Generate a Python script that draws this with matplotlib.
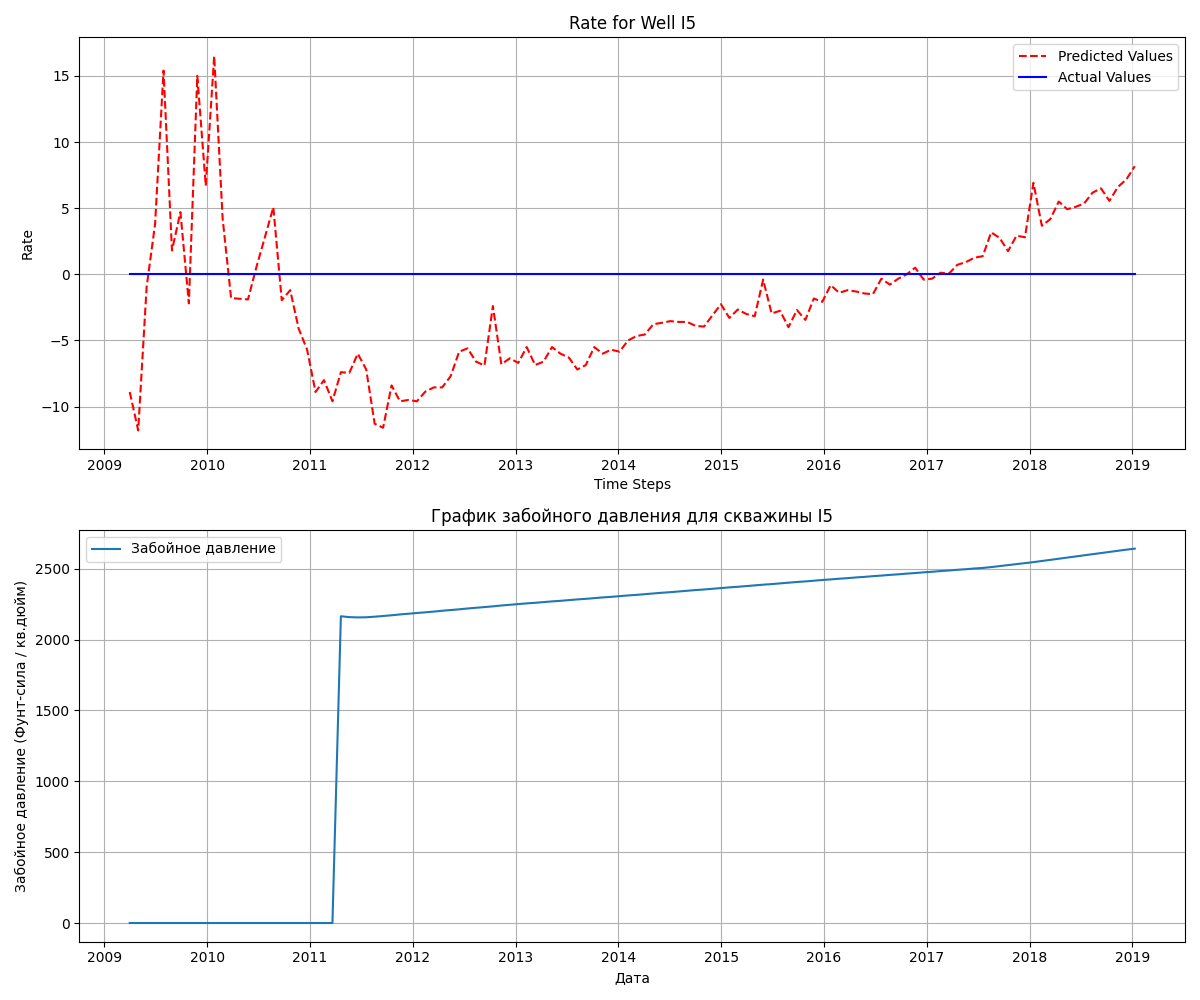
import matplotlib
matplotlib.use("Agg")
import matplotlib.pyplot as plt
import numpy as np
import pandas as pd

# time axis: 120 steps of 30 days starting 2009-04-01
dates = pd.date_range("2009-04-01", periods=120, freq="30D")

predicted = [
    -8.9, -11.8, -0.95, 3.8, 15.4, 1.8, 4.7, -2.2, 15.0, 6.7,
    16.5, 4.2, -1.8, -1.85, -1.9, 0.55, 2.8, 5.07, -1.96, -1.2,
    -4.1, -5.7, -8.9, -8.0, -9.6, -7.4, -7.45, -6.0, -7.2, -11.3,
    -11.6, -8.4, -9.6, -9.5, -9.6, -8.87, -8.55, -8.55, -7.7, -5.85,
    -5.6, -6.6, -6.9, -2.4, -6.8, -6.35, -6.7, -5.5, -6.86, -6.6,
    -5.5, -6.0, -6.3, -7.2, -6.86, -5.5, -6.0, -5.7, -5.85, -5.0,
    -4.67, -4.55, -3.77, -3.67, -3.54, -3.6, -3.6, -3.9, -3.95, -3.1,
    -2.26, -3.3, -2.66, -3.0, -3.17, -0.4, -2.96, -2.76, -4.0, -2.7,
    -3.45, -1.83, -2.08, -0.82, -1.4, -1.2, -1.3, -1.45, -1.5, -0.33,
    -0.78, -0.33, 0.0, 0.5, -0.4, -0.33, 0.12, 0.05, 0.72, 0.92,
    1.25, 1.37, 3.17, 2.75, 1.75, 2.92, 2.8, 6.92, 3.67, 4.17,
    5.5, 4.92, 5.1, 5.35, 6.17, 6.5, 5.55, 6.6, 7.17, 8.17,
]
actual = [0.0] * 120

pressure = [0] * 25 + [
    2164, 2158, 2156, 2157, 2161, 2166, 2171, 2177, 2182,
    2187, 2192, 2197, 2203, 2208, 2213, 2219, 2224, 2229, 2234,
    2240, 2245, 2250, 2255, 2259, 2264, 2269, 2273, 2278, 2283,
    2287, 2292, 2297, 2301, 2306, 2311, 2315, 2320, 2325, 2330,
    2334, 2339, 2344, 2349, 2353, 2358, 2363, 2368, 2372, 2377,
    2382, 2387, 2391, 2396, 2401, 2406, 2410, 2415, 2420, 2424,
    2429, 2433, 2438, 2442, 2447, 2451, 2456, 2460, 2465, 2469,
    2474, 2478, 2483, 2487, 2492, 2496, 2501, 2505, 2511, 2518,
    2525, 2532, 2539, 2546, 2554, 2562, 2570, 2578, 2586, 2594,
    2602, 2610, 2618, 2626, 2634, 2641,
]

fig, (ax1, ax2) = plt.subplots(2, 1, figsize=(12, 10), dpi=100)

ax1.plot(dates, predicted, "r--", label="Predicted Values")
ax1.plot(dates, actual, "b-", label="Actual Values")
ax1.set_title("Rate for Well I5")
ax1.set_xlabel("Time Steps")
ax1.set_ylabel("Rate")
ax1.legend(loc="upper right")
ax1.grid(True)

ax2.plot(dates, pressure, label="Забойное давление")
ax2.set_title("График забойного давления для скважины I5")
ax2.set_xlabel("Дата")
ax2.set_ylabel("Забойное давление (Фунт-сила / кв.дюйм)")
ax2.legend(loc="upper left")
ax2.grid(True)

plt.tight_layout()
plt.savefig("out.png")
